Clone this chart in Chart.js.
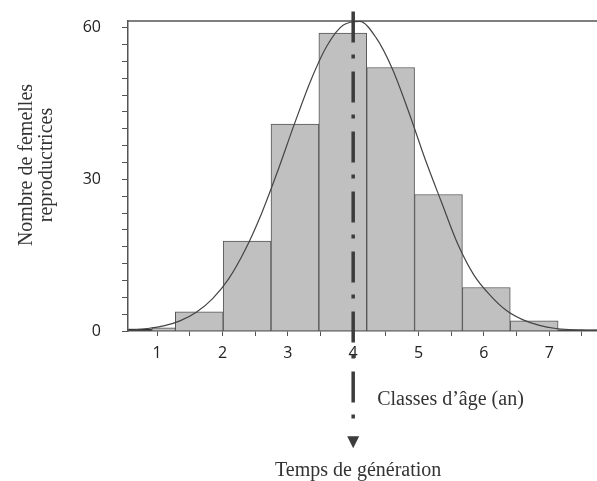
<!DOCTYPE html>
<html lang="fr">
<head>
<meta charset="UTF-8">
<title>Temps de génération</title>
<style>
    html, body {
        margin: 0;
        padding: 0;
        background: #fff;
    }
    canvas {
        display: block;
    }
</style>
</head>
<body>
<canvas id="histo" width="597" height="481"></canvas>

<script src="https://cdn.jsdelivr.net/npm/chart.js"></script>
<script>
    // age classes (centre of each class, years) and number of breeding females
    var binCentres = [1.645, 2.377, 3.109, 3.841, 4.573, 5.305, 6.037, 6.769, 7.501];
    var binCounts = [3.8, 17.8, 40.9, 58.9, 52.1, 27.0, 8.6, 2.0, 0.3];

    // the two narrow classes on the far left
    var firstCentres = [0.739, 1.100];
    var firstCounts = [0.45, 0.65];

    // fitted curve
    var curveX = [0.6, 0.85, 1.1, 1.35, 1.6, 1.85, 2.1, 2.35, 2.6, 2.85, 3.1, 3.35, 3.6, 3.85, 4.1,
                  4.35, 4.6, 4.85, 5.1, 5.35, 5.6, 5.85, 6.1, 6.35, 6.6, 6.85, 7.1, 7.35, 7.6];
    var curveY = [0.2, 0.5, 1.0, 2.0, 3.7, 6.4, 10.4, 16.1, 23.3, 31.8, 40.9, 49.5, 56.4, 60.5, 61.2,
                  58.0, 51.8, 43.3, 34.0, 25.5, 17.2, 11.0, 7.0, 4.0, 2.2, 1.1, 0.5, 0.25, 0.1];

    // generation time marker (years) and how far the dashed line runs
    var genTime = 4;
    var genLineTop = 63.2;
    var genLineEnd = -19;
    var genArrow = -21.8;

    var yTicksShown = [0, 30, 60];
    var xTicksShown = [1, 2, 3, 4, 5, 6, 7];

    var axisColor = '#555';
    var textColor = '#333';
    var markColor = '#3c3c3c';
    var barFill = '#c0c0c0';
    var thinFill = '#2a2a2a';

    function toPoints(xs, ys) {
        return xs.map(function (x, i) { return { x: x, y: ys[i] }; });
    }

    // frame line on top of the plot, arrow head, and the hand placed titles
    const extrasPlugin = {
        id: 'extras',
        beforeDatasetsDraw(chart) {
            const ctx = chart.ctx;
            const area = chart.chartArea;
            ctx.save();
            ctx.strokeStyle = axisColor;
            ctx.lineWidth = 1.5;
            ctx.beginPath();
            ctx.moveTo(area.left, area.top);
            ctx.lineTo(area.right, area.top);
            ctx.stroke();
            ctx.restore();
        },
        afterDraw(chart) {
            const ctx = chart.ctx;
            const xs = chart.scales.x;
            const ys = chart.scales.y;
            const gx = xs.getPixelForValue(genTime);
            const ay = ys.getPixelForValue(genArrow);
            ctx.save();

            // arrow head under the dashed line
            ctx.fillStyle = markColor;
            ctx.beginPath();
            ctx.moveTo(gx - 6, ay - 5);
            ctx.lineTo(gx + 6, ay - 5);
            ctx.lineTo(gx, ay + 7);
            ctx.closePath();
            ctx.fill();

            ctx.fillStyle = textColor;
            ctx.font = '20px "Liberation Serif", "Times New Roman", serif';
            ctx.textBaseline = 'alphabetic';

            // x axis title, sits right of the marker
            ctx.textAlign = 'left';
            ctx.fillText('Classes d’âge (an)', gx + 24, 405);

            // marker caption
            ctx.textAlign = 'center';
            ctx.fillText('Temps de génération', gx + 5, 476);

            // y axis title, two lines
            ctx.save();
            ctx.translate(32, 165);
            ctx.rotate(-Math.PI / 2);
            ctx.fillText('Nombre de femelles', 0, 0);
            ctx.fillText('reproductrices', 0, 20);
            ctx.restore();
            ctx.restore();
        }
    };

    const histData = {
        datasets: [
            {
                type: 'line',
                label: 'Temps de génération',
                data: [{ x: genTime, y: genLineTop }, { x: genTime, y: genLineEnd }],
                borderColor: markColor,
                borderWidth: 3.5,
                borderDash: [31, 12, 4, 13],
                pointRadius: 0,
                clip: false,
                order: 0
            },
            {
                type: 'line',
                label: 'Ajustement',
                data: toPoints(curveX, curveY),
                borderColor: '#444',
                borderWidth: 1.2,
                pointRadius: 0,
                cubicInterpolationMode: 'monotone',
                order: 1
            },
            {
                type: 'bar',
                label: 'Effectif',
                data: toPoints(binCentres, binCounts),
                // the last, almost empty class shows as a dark strip
                backgroundColor: binCounts.map(function (v, i) { return i === binCounts.length - 1 ? thinFill : barFill; }),
                borderColor: axisColor,
                borderWidth: 1,
                barThickness: 'flex',
                categoryPercentage: 1,
                barPercentage: 1,
                stack: 'hist',
                order: 2
            },
            {
                type: 'bar',
                label: 'Effectif (début)',
                data: toPoints(firstCentres, firstCounts),
                backgroundColor: [thinFill, barFill],
                borderColor: axisColor,
                borderWidth: 1,
                barThickness: 'flex',
                categoryPercentage: 1,
                barPercentage: 1,
                stack: 'hist',
                order: 3
            }
        ]
    };

    const tickFont = { family: '"Open Sans", sans-serif', size: 16 };

    const config = {
        type: 'bar',
        data: histData,
        options: {
            responsive: false,
            animation: false,
            events: [],
            layout: {
                autoPadding: false,
                padding: { left: 0, top: 21, right: 0, bottom: 110 }
            },
            scales: {
                x: {
                    type: 'linear',
                    min: 0.555,
                    max: 7.73,
                    offset: false,
                    border: { color: axisColor, width: 1.5 },
                    grid: { drawOnChartArea: false, offset: false, tickLength: 5, color: axisColor },
                    ticks: {
                        stepSize: 0.5,
                        includeBounds: false,
                        autoSkip: false,
                        maxRotation: 0,
                        padding: 8,
                        color: '#222',
                        font: tickFont,
                        callback: function (v) {
                            return xTicksShown.includes(v) ? String(v) : '';
                        }
                    },
                    afterFit: function (s) {
                        s.height = 40;
                        s.paddingLeft = 0;
                        s.paddingRight = 0;
                    }
                },
                y: {
                    type: 'linear',
                    min: 0,
                    max: 61.3,
                    stacked: false,
                    border: { color: axisColor, width: 1.5 },
                    grid: { drawOnChartArea: false, tickLength: 6, color: axisColor },
                    ticks: {
                        stepSize: 60 / 18,
                        includeBounds: false,
                        autoSkip: false,
                        padding: 21,
                        color: '#222',
                        font: tickFont,
                        callback: function (v) {
                            const r = Math.round(v);
                            return (Math.abs(v - r) < 0.01 && yTicksShown.includes(r)) ? String(r) : '';
                        }
                    },
                    // fixed width, and no extra room above/below for the tick labels
                    afterFit: function (s) {
                        s.width = 128;
                        s.paddingTop = 0;
                        s.paddingBottom = 0;
                    }
                }
            },
            plugins: {
                legend: { display: false },
                tooltip: { enabled: false }
            }
        },
        plugins: [extrasPlugin]
    };

    const histChart = new Chart(document.getElementById('histo'), config);
</script>
</body>
</html>
